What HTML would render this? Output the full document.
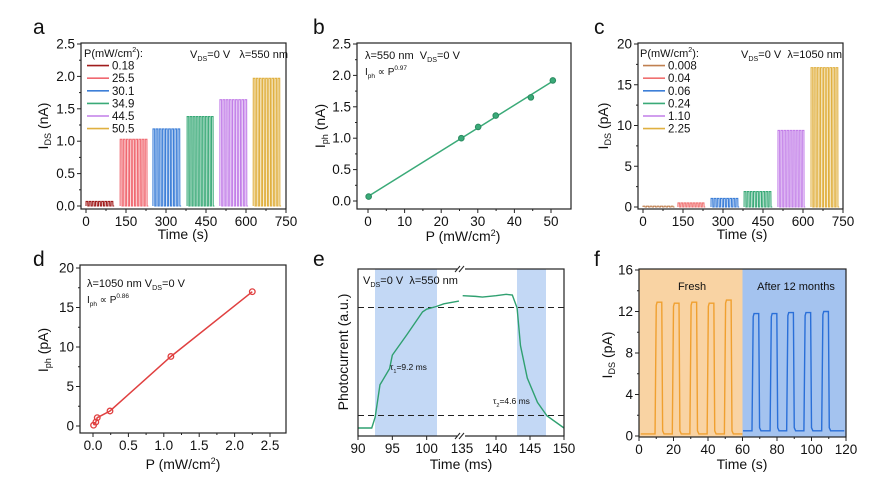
<!DOCTYPE html>
<html><head><meta charset="utf-8"><style>
body{margin:0;background:#fff}
svg{display:block;font-family:"Liberation Sans",sans-serif}
</style></head><body>
<svg id="fig" width="874" height="490" viewBox="0 0 874 490"></svg>
<script>
// ---- data ----
const aLevels=[0.07,1.03,1.19,1.38,1.64,1.97];
const aStarts=[0,128,251,379,502,627];
const aEnds=[101,229,352,477,603,727];
const aLabels=["0.18","25.5","30.1","34.9","44.5","50.5"];
const aColors=["#a01c1c","#f06870","#3d7fd8","#3aaa78","#c27ee8","#e0b040"];
const cLevels=[0.1,0.5,1.05,1.9,9.4,17.1];
const cStarts=[0,131,255,379,506,630];
const cEnds=[113,229,356,480,604,731];
const cLabels=["0.008","0.04","0.06","0.24","1.10","2.25"];
const cColors=["#c08050","#f07070","#3d7fd8","#3aaa78","#c27ee8","#e0b040"];
const bP=[0.18,25.5,30.1,34.9,44.5,50.5];
const bI=[0.07,1.0,1.18,1.36,1.65,1.92];
const dP=[0.008,0.04,0.06,0.24,1.10,2.25];
const dI=[0.1,0.5,1.05,1.9,8.8,17.0];
const eLeftT=[90,92,92.5,93.2,94.6,95,97.1,99.4,100,101.4,102.5,104.7];
const eLeftV=[0.0,0.0,0.08,0.32,0.44,0.54,0.69,0.86,0.88,0.9,0.92,0.94];
const eRightT=[135.1,137,138,140,141.5,142.4,143.1,143.6,144.6,146.1,147.5,150];
const eRightV=[0.98,0.975,0.97,0.98,0.99,0.985,0.89,0.61,0.37,0.19,0.09,0.0];
const fOStarts=[9.3,19.3,29.5,39.5,49.5];
const fOLevels=[12.9,12.8,12.9,12.8,13.1];
const fBStarts=[65.5,76,85.6,95.6,105.9];
const fBLevels=[11.8,11.8,11.9,11.9,12.0];
const fPulseWidth=4.4;

const NS="http://www.w3.org/2000/svg";
const svg=document.getElementById('fig');
function el(tag,attrs,parent,text){const e=document.createElementNS(NS,tag);for(const k in attrs)e.setAttribute(k,attrs[k]);if(text!==undefined)e.textContent=text;(parent||svg).appendChild(e);return e;}
function txt(x,y,s,size,anchor,parent){const t=el('text',{x:x,y:y,'font-size':size,'text-anchor':anchor||'start',fill:'#111'},parent);t.innerHTML=s;return t;}
function lin(d0,d1,r0,r1){return v=>r0+(v-d0)*(r1-r0)/(d1-d0);}
const sub=(s,rest)=>`<tspan font-size="0.65em" dy="3">${s}</tspan><tspan dy="-3">${rest}</tspan>`;
const sup=(s,rest)=>`<tspan font-size="0.65em" dy="-5">${s}</tspan><tspan dy="5">${rest}</tspan>`;

function axes(name,box,xs,ys,xt,yt,xl,yl,xminor,yminor){
  const g=el('g',{});
  
  
  xt.forEach(v=>{const X=xs(v);el('line',{x1:X,x2:X,y1:box.b,y2:box.b+4,stroke:'#222','stroke-width':1},g);
    const t=txt(X,box.b+17,xl?xl(v):v,13.5,'middle',g);});
  if(xminor)xminor.forEach(v=>{const X=xs(v);el('line',{x1:X,x2:X,y1:box.b,y2:box.b+2,stroke:'#222'},g);});
  yt.forEach(v=>{const Y=ys(v);el('line',{x1:box.l-4,x2:box.l,y1:Y,y2:Y,stroke:'#222'},g);
    const t=txt(box.l-6,Y+4.5,yl?yl(v):v,13.5,'end',g);});
  if(yminor)yminor.forEach(v=>{const Y=ys(v);el('line',{x1:box.l-2,x2:box.l,y1:Y,y2:Y,stroke:'#222'},g);});
  return g;
}
function frame(name,box){const r=el('rect',{x:box.l,y:box.t,width:box.r-box.l,height:box.b-box.t,fill:'none',stroke:'#222','stroke-width':1.2});
  }
function ylabel(x,y,s,name){const t=el('text',{x:0,y:0,'font-size':14,'text-anchor':'middle',fill:'#111',transform:`translate(${x},${y}) rotate(-90)`});t.innerHTML=s;
  }
function xlabel(x,y,s,name){const t=txt(x,y,s,14,'middle');}
function letter(x,y,s){const t=txt(x,y,s,21,'start');}
function ticksRange(a,b,s){const r=[];for(let v=a;v<=b+1e-9;v+=s)r.push(+v.toFixed(4));return r;}

function pulseGroups(name,g,xs,ys,starts,ends,levels,colors){
  starts.forEach((s,i)=>{
    let d=`M${xs(s)},${ys(0)}`;const period=(ends[i]-s)/8.6;
    for(let t=s;t+period*0.3<=ends[i];t+=period){
      d+=` L${xs(t)},${ys(0)} L${xs(t+0.3)},${ys(levels[i])} L${xs(t+period*0.55)},${ys(levels[i])} L${xs(t+period*0.6)},${ys(0)} L${xs(t+period)},${ys(0)}`;}
    const p=el('path',{d:d,fill:'none',stroke:colors[i],'stroke-width':1.1},g);
    
    
  });
}
function legend(name,x0,y0,labels,colors){
  const g=el('g',{});
  txt(x0-3,y0,'P(mW/cm'+sup('2','):'),11,'start',g);
  labels.forEach((l,i)=>{const y=y0+12.6*(i+1);
    const e=el('g',{},g);
    el('line',{x1:x0,x2:x0+22,y1:y-4,y2:y-4,stroke:colors[i],'stroke-width':1.6},e);
    txt(x0+25,y,l,11.5,'start',e);});
}

// ---- panel a ----
(function(){const box={l:81,r:286,t:43,b:209};const xs=lin(0,750,86,286),ys=lin(0,2.5,206,44);
 axes('panel-a',box,xs,ys,ticksRange(0,750,150),ticksRange(0,2.5,0.5),null,v=>v.toFixed(1),ticksRange(75,675,150),ticksRange(0.25,2.25,0.5));
 const g=el('g',{});
 pulseGroups('panel-a',g,xs,ys,aStarts,aEnds,aLevels,aColors);frame('panel-a',box);
 legend('panel-a',87,57,aLabels,aColors);
 txt(190,58,'V'+sub('DS','=0 V &#160; λ=550 nm'),11,'start');
 ylabel(48,126,'I'+sub('DS',' (nA)'),'panel-a-y-axis-title');xlabel(183,239,'Time (s)','panel-a-x-axis-title');letter(33,34,'a');})();

// ---- panel b ----
(function(){const box={l:357,r:571,t:43,b:209};const xs=lin(0,50,368,551),ys=lin(0,2.5,201,44);
 axes('panel-b',box,xs,ys,ticksRange(0,50,10),ticksRange(0,2.5,0.5),null,v=>v.toFixed(1),ticksRange(5,45,10),ticksRange(0.25,2.25,0.5));
 const n=bP.length;const mx=bP.reduce((a,b)=>a+b)/n,my=bI.reduce((a,b)=>a+b)/n;
 let sxy=0,sxx=0;bP.forEach((p,i)=>{sxy+=(p-mx)*(bI[i]-my);sxx+=(p-mx)**2});const k=sxy/sxx,c0=my-k*mx;
 const fl=el('line',{x1:xs(0),y1:ys(c0),x2:xs(51),y2:ys(c0+k*51),stroke:'#3aaa78','stroke-width':1.5});
 
 bP.forEach((p,i)=>{const c=el('circle',{cx:xs(p),cy:ys(bI[i]),r:2.8,fill:'#3aaa78',stroke:'#2a8a60'});
  });
 frame('panel-b',box);
 txt(365,59,'λ=550 nm &#160;V'+sub('DS','=0 V'),11,'start');
 txt(365,75,'I'+sub('ph',' ∝ P')+sup('0.97',''),10,'start');
 ylabel(325,126,'I'+sub('ph',' (nA)'),'panel-b-y-axis-title');xlabel(463,241,'P (mW/cm'+sup('2',')'),'panel-b-x-axis-title');letter(313,34,'b');})();

// ---- panel c ----
(function(){const box={l:638,r:843,t:43,b:209};const xs=lin(0,750,643,843),ys=lin(0,20,207,44);
 axes('panel-c',box,xs,ys,ticksRange(0,750,150),ticksRange(0,20,5),null,null,ticksRange(75,675,150),ticksRange(2.5,17.5,5));
 const g=el('g',{});
 pulseGroups('panel-c',g,xs,ys,cStarts,cEnds,cLevels,cColors);frame('panel-c',box);
 legend('panel-c',643,57,cLabels,cColors);
 txt(741,58,'V'+sub('DS','=0 V &#160;λ=1050 nm'),11,'start');
 ylabel(608,126,'I'+sub('DS',' (pA)'),'panel-c-y-axis-title');xlabel(742,239,'Time (s)','panel-c-x-axis-title');letter(594,34,'c');})();

// ---- panel d ----
(function(){const box={l:80,r:286,t:265,b:433};const xs=lin(0,2.5,93,270),ys=lin(0,20,426,268);
 axes('panel-d',box,xs,ys,ticksRange(0,2.5,0.5),ticksRange(0,20,5),v=>v.toFixed(1),null,ticksRange(0.25,2.25,0.5),ticksRange(2.5,17.5,5));
 const pts=dP.map((p,i)=>xs(p)+','+ys(dI[i])).join(' ');
 const fl=el('polyline',{points:pts,fill:'none',stroke:'#e04040','stroke-width':1.5});
 
 dP.forEach((p,i)=>{const c=el('circle',{cx:xs(p),cy:ys(dI[i]),r:2.8,fill:'none',stroke:'#e04040','stroke-width':1.3});
  });
 frame('panel-d',box);
 txt(87,287,'λ=1050 nm V'+sub('DS','=0 V'),11,'start');
 txt(87,303,'I'+sub('ph',' ∝ P')+sup('0.86',''),10,'start');
 ylabel(48,350,'I'+sub('ph',' (pA)'),'panel-d-y-axis-title');xlabel(183,469,'P (mW/cm'+sup('2',')'),'panel-d-x-axis-title');letter(33,266,'d');})();

// ---- panel e ----
(function(){const box={l:358,r:564,t:269,b:436};const xl=lin(90,105,358,461),xr=lin(135,150,462,564),ys=lin(0,1,428,293);
 [[375,437],[517,546]].forEach((b,i)=>{const r=el('rect',{x:b[0],y:box.t,width:b[1]-b[0],height:box.b-box.t,fill:'#c3d8f5'});
  });
 [0.1,0.9].forEach(v=>{const l=el('line',{x1:box.l,x2:box.r,y1:ys(v)+1,y2:ys(v)+1,stroke:'#222','stroke-dasharray':'6,4'});
  });
 const p1=el('polyline',{points:eLeftT.map((t,i)=>xl(t)+','+ys(eLeftV[i])).join(' '),fill:'none',stroke:'#2fa070','stroke-width':1.4});
 
 const p2=el('polyline',{points:eRightT.map((t,i)=>xr(t)+','+ys(eRightV[i])).join(' '),fill:'none',stroke:'#2fa070','stroke-width':1.4});
 
 const g=el('g',{});
 [[90,xl],[95,xl],[100,xl],[135,xr],[140,xr],[145,xr],[150,xr]].forEach(a=>{const X=a[1](a[0]);
  el('line',{x1:X,x2:X,y1:box.b,y2:box.b+4,stroke:'#222'},g);txt(X,box.b+17,a[0],13.5,'middle',g);});
 frame('panel-e',box);
 el('rect',{x:457,y:box.t-4,width:8,height:8,fill:'#fff'});el('rect',{x:457,y:box.b-4,width:8,height:8,fill:'#fff'});
 [box.t,box.b].forEach(y=>{el('line',{x1:455,x2:460,y1:y+3,y2:y-3,stroke:'#222'});el('line',{x1:459,x2:464,y1:y+3,y2:y-3,stroke:'#222'});});
 txt(363,284,'V'+sub('DS','=0 V &#160;λ=550 nm'),11,'start');
 txt(390,370,'τ'+sub('1','=9.2 ms'),8.5,'start');txt(493,404,'τ'+sub('2','=4.6 ms'),8.5,'start');
 ylabel(348,352,'Photocurrent (a.u.)','panel-e-y-axis-title');xlabel(461,469,'Time (ms)','panel-e-x-axis-title');letter(313,266,'e');})();

// ---- panel f ----
(function(){const box={l:639,r:846,t:269,b:437};const xs=lin(0,120,639,846),ys=lin(0,16,436,270);
 const o=el('rect',{x:xs(0),y:box.t,width:xs(60)-xs(0),height:box.b-box.t,fill:'#f9d3a3'});
 const b=el('rect',{x:xs(60),y:box.t,width:xs(120)-xs(60),height:box.b-box.t,fill:'#a4c3ef'});
 axes('panel-f',box,xs,ys,ticksRange(0,120,20),ticksRange(0,16,4),null,null,ticksRange(10,110,20),ticksRange(2,14,4));
 function wave(t0,t1,starts,levels,base){let d=`M${xs(t0)},${ys(base)}`;
  starts.forEach((s,i)=>{d+=` L${xs(s)},${ys(base)} L${xs(s+0.7)},${ys(levels[i]-0.3)} L${xs(s+1.2)},${ys(levels[i])} L${xs(s+fPulseWidth-0.5)},${ys(levels[i])} L${xs(s+fPulseWidth)},${ys(base+0.3)} L${xs(s+fPulseWidth+0.8)},${ys(base)}`;});
  return d+` L${xs(t1)},${ys(base)}`;}
 const po=el('path',{d:wave(1,60,fOStarts,fOLevels,0.2),fill:'none',stroke:'#f0a030','stroke-width':1.4});
 const pb=el('path',{d:wave(60.3,119,fBStarts,fBLevels,0.5),fill:'none',stroke:'#2a6fd8','stroke-width':1.4});
 frame('panel-f',box);
 txt(692,290,'Fresh',11,'middle');txt(796,290,'After 12 months',11,'middle');
 ylabel(612,355,'I'+sub('DS',' (pA)'),'panel-f-y-axis-title');xlabel(742,469,'Time (s)','panel-f-x-axis-title');letter(594,266,'f');})();
</script>
</body></html>
